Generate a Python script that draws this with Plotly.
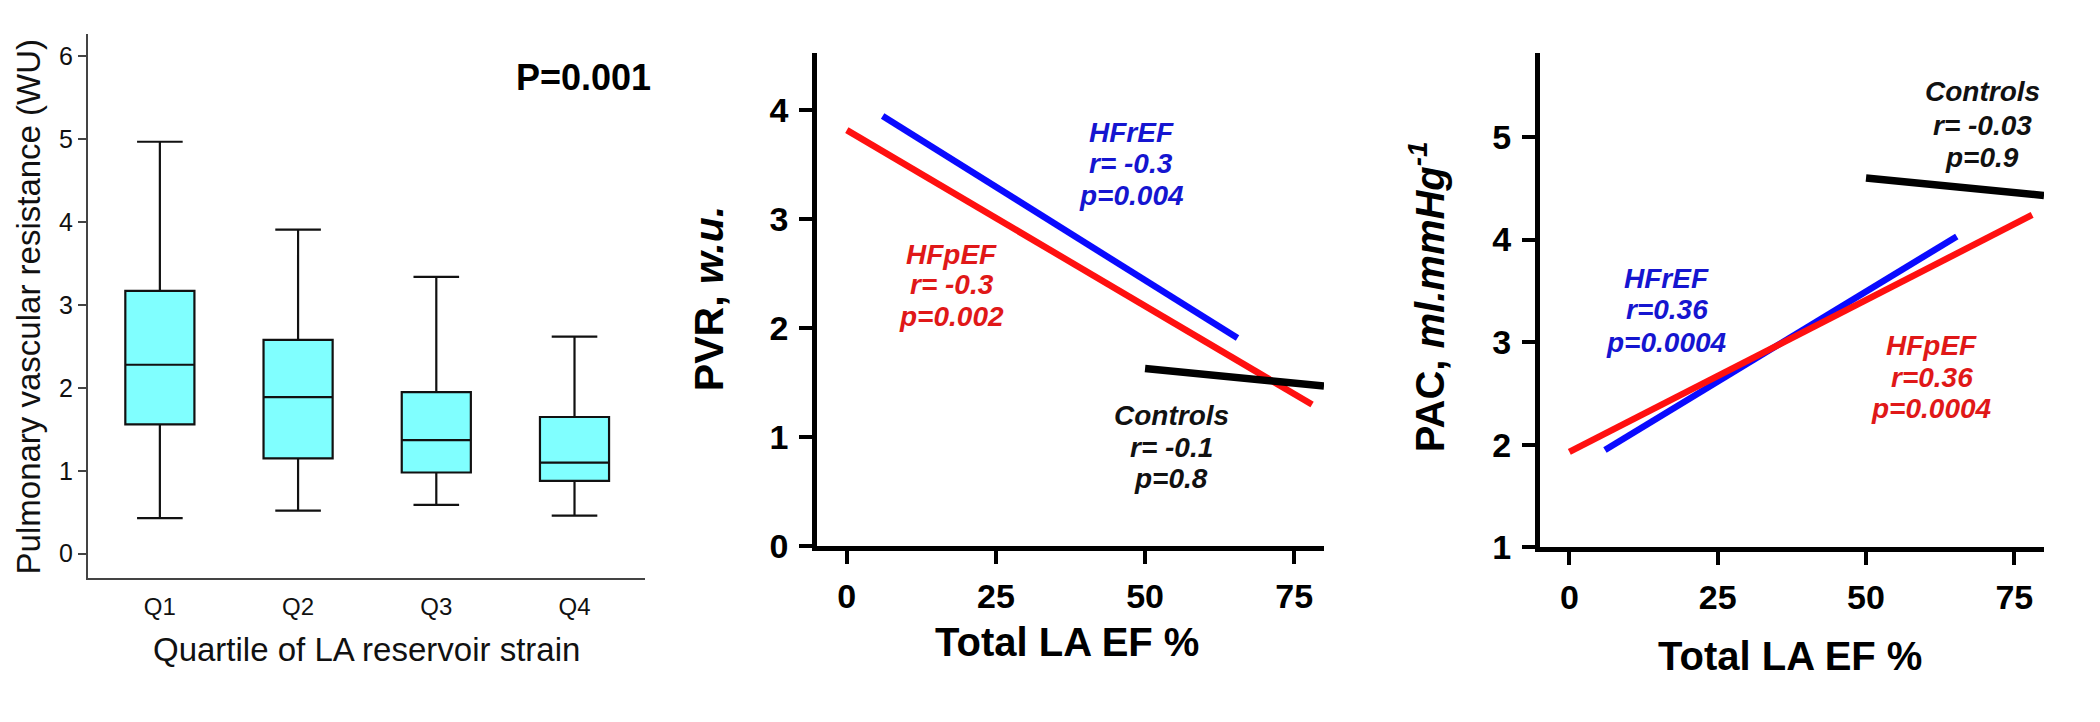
import plotly.graph_objects as go

# ---------------- data ----------------
quartiles = ["Q1", "Q2", "Q3", "Q4"]
pvr_lower = [0.43, 0.52, 0.59, 0.46]
pvr_q1 = [1.56, 1.15, 0.98, 0.88]
pvr_median = [2.28, 1.89, 1.37, 1.10]
pvr_q3 = [3.17, 2.58, 1.95, 1.65]
pvr_upper = [4.97, 3.91, 3.34, 2.62]

# PVR regression lines (Total LA EF %, PVR)
pvr_hfref_x = [6, 65.5]
pvr_hfref_y = [3.95, 1.91]
pvr_hfpef_x = [0, 78]
pvr_hfpef_y = [3.82, 1.30]
pvr_ctrl_x = [50, 80]
pvr_ctrl_y = [1.63, 1.47]

# PAC regression lines
pac_hfref_x = [6, 65.3]
pac_hfref_y = [1.95, 4.03]
pac_hfpef_x = [0, 78]
pac_hfpef_y = [1.93, 4.24]
pac_ctrl_x = [50, 80]
pac_ctrl_y = [4.60, 4.43]

ef_ticks = [0, 25, 50, 75]
pvr_ticks = [0, 1, 2, 3, 4]
pac_ticks = [1, 2, 3, 4, 5]
box_ticks = [0, 1, 2, 3, 4, 5, 6]

# stat labels: (text lines, x, y per line, colour)
pvr_labels = [
    (["HFrEF", "r= -0.3", "p=0.004"], 47.7, [3.80, 3.51, 3.22], "#1515d0"),
    (["HFpEF", "r= -0.3", "p=0.002"], 17.6, [2.68, 2.40, 2.11], "#e01818"),
    (["Controls", "r= -0.1", "p=0.8"], 54.4, [1.20, 0.905, 0.62], "#111111"),
]
pac_labels = [
    (["Controls", "r= -0.03", "p=0.9"], 69.6, [5.44, 5.11, 4.80], "#111111"),
    (["HFrEF", "r=0.36", "p=0.0004"], 16.4, [3.62, 3.32, 3.00], "#1515d0"),
    (["HFpEF", "r=0.36", "p=0.0004"], 61.1, [2.97, 2.66, 2.35], "#e01818"),
]

FONT = "Liberation Sans, Arial, Helvetica, sans-serif"
BLUE = "#0a0aff"
RED = "#ff1010"

fig = go.Figure()

# Panel 1: box plot
fig.add_trace(go.Box(
    x=quartiles, q1=pvr_q1, median=pvr_median, q3=pvr_q3,
    lowerfence=pvr_lower, upperfence=pvr_upper,
    fillcolor="#80ffff", line=dict(color="#111111", width=2.2),
    width=0.5, whiskerwidth=0.66, boxpoints=False,
    xaxis="x", yaxis="y", hoverinfo="skip",
))

# Panel 2: PVR lines
for xs, ys, col, w in [(pvr_hfref_x, pvr_hfref_y, BLUE, 6.5),
                       (pvr_hfpef_x, pvr_hfpef_y, RED, 6.5),
                       (pvr_ctrl_x, pvr_ctrl_y, "#000000", 7.5)]:
    fig.add_trace(go.Scatter(x=xs, y=ys, mode="lines",
                             line=dict(color=col, width=w),
                             xaxis="x2", yaxis="y2", hoverinfo="skip"))

# Panel 3: PAC lines
for xs, ys, col, w in [(pac_ctrl_x, pac_ctrl_y, "#000000", 7.5),
                       (pac_hfref_x, pac_hfref_y, BLUE, 6.5),
                       (pac_hfpef_x, pac_hfpef_y, RED, 6.5)]:
    fig.add_trace(go.Scatter(x=xs, y=ys, mode="lines",
                             line=dict(color=col, width=w),
                             xaxis="x3", yaxis="y3", hoverinfo="skip"))

W, H = 2100, 722


def dom_x(a, b):
    return [a / W, b / W]


def dom_y(top, bottom):
    return [1 - bottom / H, 1 - top / H]


bold_axis = dict(showgrid=False, zeroline=False, showline=True,
                 linecolor="#000000", linewidth=4.5, ticks="outside",
                 tickcolor="#000000", tickwidth=4, ticklen=13,
                 tickfont=dict(family=FONT, size=34, color="#000000", weight="bold"))

fig.update_layout(
    width=W, height=H, margin=dict(l=0, r=0, t=0, b=0),
    paper_bgcolor="white", plot_bgcolor="white", showlegend=False,
    xaxis=dict(domain=dom_x(80, 637), type="category", range=[-0.52, 3.51],
               showgrid=False, zeroline=False, showline=True,
               linecolor="#444444", linewidth=2, ticks="",
               tickfont=dict(family=FONT, size=24, color="#111111"),
               ticklabelstandoff=6, anchor="y"),
    yaxis=dict(domain=dom_y(26.7, 585.7), range=[-0.296, 6.27],
               tickvals=box_ticks, showgrid=False, zeroline=False,
               showline=True, linecolor="#444444", linewidth=2,
               ticks="outside", ticklen=8, tickwidth=2, tickcolor="#444444",
               tickfont=dict(family=FONT, size=25, color="#111111"),
               anchor="x"),
    xaxis2=dict(domain=dom_x(809, 1316), range=[-5, 80], tickvals=ef_ticks,
                anchor="y2", ticklabelstandoff=3, **bold_axis),
    yaxis2=dict(domain=dom_y(46, 552.6), range=[0, 4.53], tickvals=pvr_ticks,
                anchor="x2", ticklabelstandoff=4, **bold_axis),
    xaxis3=dict(domain=dom_x(1531.7, 2036), range=[-5, 80], tickvals=ef_ticks,
                anchor="y3", ticklabelstandoff=3, **bold_axis),
    yaxis3=dict(domain=dom_y(46, 554), range=[1, 5.82], tickvals=pac_ticks,
                anchor="x3", ticklabelstandoff=4, **bold_axis),
)


def paper_text(text, px, py, size, angle=0, color="#000000"):
    return dict(text=text, x=px / W, y=1 - py / H, xref="paper", yref="paper",
                xanchor="center", yanchor="middle", textangle=angle,
                showarrow=False, font=dict(family=FONT, size=size, color=color))


ann = [
    paper_text("Pulmonary vascular resistance (WU)", 20, 307.5, 33, -90, "#111111"),
    paper_text("Quartile of LA reservoir strain", 358.5, 659, 33, 0, "#111111"),
    paper_text("<b>P=0.001</b>", 575, 71.4, 36),
    paper_text("<b>PVR, <i>w.u.</i></b>", 701, 299, 41, -90),
    paper_text("<b>Total LA EF %</b>", 1059, 651, 40),
    paper_text("<b>PAC, <i>ml.mmHg<sup>-1</sup></i></b>", 1419, 297, 40, -90),
    paper_text("<b>Total LA EF %</b>", 1781.7, 666, 40),
]

for labels, xr, yr in [(pvr_labels, "x2", "y2"), (pac_labels, "x3", "y3")]:
    for lines, lx, lys, col in labels:
        for t, ly in zip(lines, lys):
            ann.append(dict(text="<b><i>" + t + "</i></b>", x=lx, y=ly, xref=xr, yref=yr,
                            showarrow=False, xanchor="center", yanchor="middle",
                            font=dict(family=FONT, size=28, color=col)))

fig.update_layout(annotations=ann)
fig.write_html("out.html")
